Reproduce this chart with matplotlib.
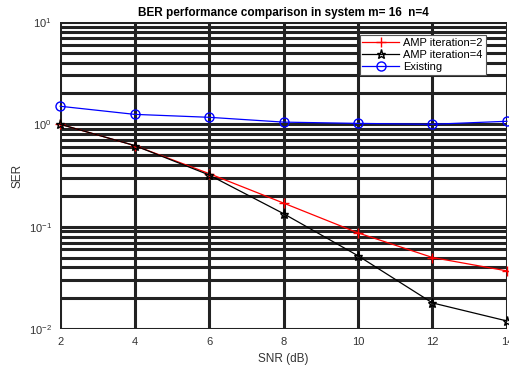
import numpy as np
import matplotlib
matplotlib.use("Agg")
import matplotlib.pyplot as plt
from matplotlib.ticker import LogLocator, NullFormatter

plt.rcParams['font.family'] = ['Liberation Sans', 'DejaVu Sans']

# data
snr = [2, 4, 6, 8, 10, 12, 14]
ser_amp2 = [1.0, 0.62, 0.33, 0.17, 0.087, 0.05, 0.037]
ser_amp4 = [1.0, 0.62, 0.32, 0.134, 0.052, 0.018, 0.012]
ser_existing = [1.5, 1.25, 1.17, 1.05, 1.02, 1.0, 1.07]

fig = plt.figure(figsize=(5.1, 3.71), dpi=100)
ax = fig.add_axes([0.118, 0.113, 0.876, 0.828])

ax.semilogy(snr, ser_amp2, color='red', marker='+', markersize=7, linewidth=0.9,
            label='AMP iteration=2', clip_on=False, zorder=5)
ax.semilogy(snr, ser_amp4, color='black', marker='*', markersize=6.5, linewidth=0.9,
            markerfacecolor='none', label='AMP iteration=4', clip_on=False, zorder=5)
ax.semilogy(snr, ser_existing, color='blue', marker='o', markersize=6.5, linewidth=0.9,
            markerfacecolor='none', label='Existing', clip_on=False, zorder=5)

ax.set_xlim(2, 14)
ax.set_ylim(1e-2, 1e1)
ax.set_xticks(snr)
ax.yaxis.set_major_locator(LogLocator(base=10, numticks=10))
ax.yaxis.set_minor_locator(LogLocator(base=10, subs=np.arange(2, 10), numticks=10))
ax.yaxis.set_minor_formatter(NullFormatter())

ax.grid(True, which='major', color='#222222', linewidth=2.2)
ax.grid(True, which='minor', axis='y', color='#222222', linewidth=2.2)
ax.set_axisbelow(True)
for s in ax.spines.values():
    s.set_visible(False)
ax.tick_params(which='both', length=0, labelsize=8, colors='#333333', pad=6)

ax.set_xlabel('SNR (dB)', fontsize=8.5, color='#333333', labelpad=4)
ax.set_ylabel('SER', fontsize=8.5, color='#333333', labelpad=4)
ax.set_title('BER performance comparison in system m= 16  n=4', fontsize=8.5,
             fontweight='bold', pad=4)

leg = ax.legend(loc='upper right', bbox_to_anchor=(0.965, 0.975), fontsize=8,
                frameon=True, fancybox=False, edgecolor='#555555',
                borderpad=0.25, labelspacing=0.2, handlelength=3.3, handletextpad=0.4)
leg.get_frame().set_linewidth(0.8)
leg.get_frame().set_alpha(1)

fig.savefig('out.png', dpi=100, facecolor='white')
